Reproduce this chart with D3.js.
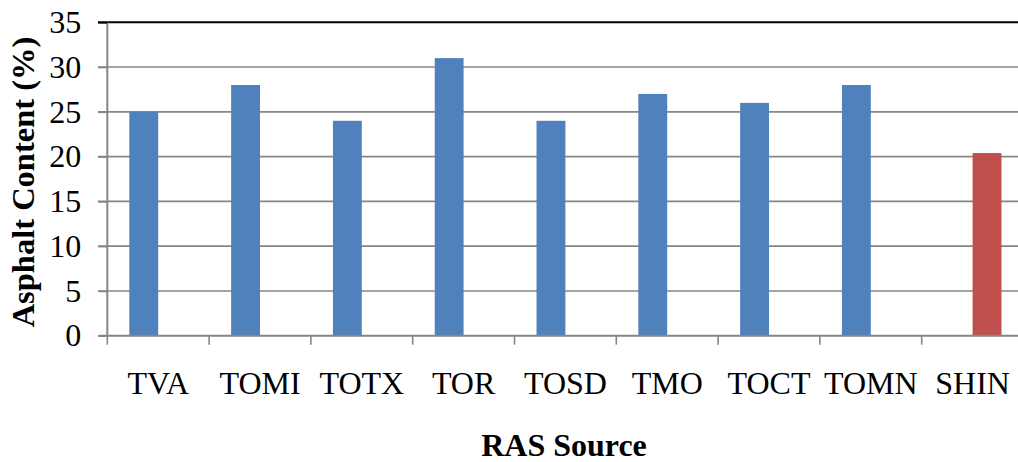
<!DOCTYPE html>
<html><head><meta charset="utf-8">
<script src="https://cdn.jsdelivr.net/npm/d3@7"></script>
<style>body{margin:0;background:#fff}svg{display:block}</style>
</head><body>
<svg id="c" width="1018" height="462"></svg>
<script>
const categories = ["TVA","TOMI","TOTX","TOR","TOSD","TMO","TOCT","TOMN","SHIN"];
const series1 = [25,28,24,31,24,27,26,28,null];
const series2 = [null,null,null,null,null,null,null,null,20.4];
const yTicks = [0,5,10,15,20,25,30,35];
const seriesNames = ["s1","s2"];
const colors = ["#4F81BD","#C0504D"];

const svg = d3.select("#c");
const x0 = 107.3, bandW = 101.8;
const x = d3.scaleBand().domain(categories).range([x0, x0 + bandW*categories.length]).paddingInner(0).paddingOuter(0);
const xs = d3.scaleBand().domain(seriesNames).range([0, bandW]).paddingInner(0).paddingOuter(0.7627);
const y = d3.scaleLinear().domain([0,35]).range([335.7,22.3]);
const font = "'Liberation Serif','Times New Roman',serif";

// gridlines
svg.append("g").selectAll("line").data(yTicks.filter(d=>d>0)).join("line")
  .attr("x1",98).attr("x2",1018).attr("y1",d=>y(d)).attr("y2",d=>y(d))
  .attr("stroke",d=>d===35?"#000":"#868686").attr("stroke-width",d=>d===35?2:1.6);

// bars
const data = [];
categories.forEach((c,i)=>{
  [series1,series2].forEach((s,j)=>{ if(s[i]!=null) data.push({c, s:seriesNames[j], v:s[i], col:colors[j]}); });
});
svg.append("g").selectAll("rect").data(data).join("rect")
  .attr("x",d=>x(d.c)+xs(d.s)).attr("width",xs.bandwidth())
  .attr("y",d=>y(d.v)).attr("height",d=>y(0)-y(d.v))
  .attr("fill",d=>d.col);

// y axis
const yAxis = d3.axisLeft(y).tickValues(yTicks).tickSize(9).tickPadding(17).tickFormat(d3.format("d"));
const gy = svg.append("g").attr("transform",`translate(${x0},0)`).call(yAxis);
gy.select(".domain").attr("stroke","#868686").attr("stroke-width",2).attr("d",`M0,${y(35)}V${y(0)}`);
gy.selectAll(".tick line").attr("stroke",d=>d===35?"#000":"#868686").attr("stroke-width",1.6);
gy.selectAll("text").attr("font-family",font).attr("font-size",32).attr("fill","#000");

// x axis
const xAxis = d3.axisBottom(x).tickSize(0).tickPadding(36);
const gx = svg.append("g").attr("transform",`translate(0,${y(0)})`).call(xAxis);
gx.select(".domain").remove();
gx.selectAll("text").attr("font-family",font).attr("font-size",32).attr("fill","#000");
svg.append("line").attr("x1",x0-9).attr("x2",1018).attr("y1",y(0)).attr("y2",y(0)).attr("stroke","#868686").attr("stroke-width",2);
svg.append("g").selectAll("line").data(d3.range(categories.length+1)).join("line")
  .attr("x1",i=>x0+i*bandW).attr("x2",i=>x0+i*bandW).attr("y1",y(0)).attr("y2",y(0)+9)
  .attr("stroke","#868686").attr("stroke-width",1.6);

// titles
svg.append("text").attr("x",564).attr("y",456).attr("text-anchor","middle")
  .attr("font-family",font).attr("font-size",32).attr("font-weight","bold").text("RAS Source");
svg.append("text").attr("transform","translate(34,182) rotate(-90)").attr("text-anchor","middle")
  .attr("font-family",font).attr("font-size",32.5).attr("font-weight","bold").text("Asphalt Content (%)");
</script>
</body></html>
